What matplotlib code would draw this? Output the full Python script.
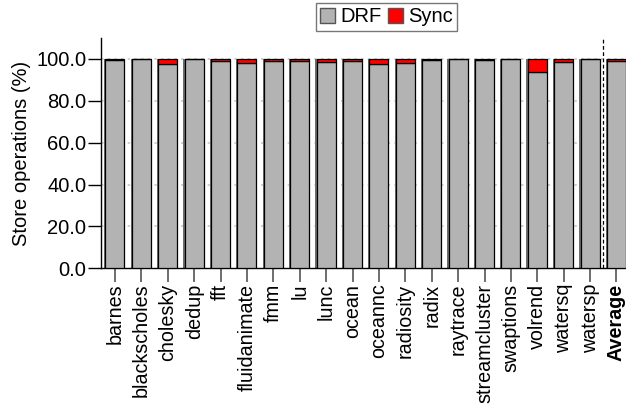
import matplotlib
matplotlib.use("Agg")
import matplotlib.pyplot as plt
import matplotlib.transforms as mtransforms
import numpy as np
from matplotlib.patches import Patch

plt.rcParams['font.family'] = ['Liberation Sans', 'DejaVu Sans']

categories = ["barnes", "blackscholes", "cholesky", "dedup", "fft", "fluidanimate",
              "fmm", "lu", "lunc", "ocean", "oceannc", "radiosity", "radix",
              "raytrace", "streamcluster", "swaptions", "volrend", "watersq",
              "watersp", "Average"]
sync = [0.5, 0.2, 2.5, 0.1, 0.8, 2.0, 0.8, 0.8, 1.5, 1.0, 2.5, 1.8, 0.5,
        0.1, 0.3, 0.2, 6.4, 1.3, 0.1, 1.2]
drf = [100 - s for s in sync]
yticks = [0, 20, 40, 60, 80, 100]

fig = plt.figure(figsize=(6.26, 4.11), dpi=100)
ax = fig.add_axes([0.1613, 0.347, 0.8387, 0.5605])

x = np.arange(len(categories))
w = 0.72
shadow_off = 0.05
# shadow
ax.bar(x - shadow_off, 100, width=w, color='#6e6e6e', edgecolor='none', zorder=2)
ax.bar(x, drf, width=w, color='#b3b3b3', edgecolor='black', linewidth=0.9, zorder=3)
ax.bar(x, sync, bottom=drf, width=w, color='#ff0000', edgecolor='black', linewidth=0.9, zorder=3)

ax.set_xlim(-0.53, 19.36)
ax.set_ylim(0, 110)
ax.set_yticks(yticks)
ax.set_yticklabels([f"{v:.1f}" for v in yticks], fontsize=14.5)
ax.set_xticks(x)
labels = ax.set_xticklabels(categories, rotation=90, fontsize=14.2)
labels[-1].set_fontweight('bold')
offset = mtransforms.ScaledTranslation(-5 / 72, 0, fig.dpi_scale_trans)
for lab in labels:
    lab.set_transform(lab.get_transform() + offset)

for v in yticks[1:]:
    ax.axhline(v, color='#c8c8c8', linestyle=(0, (1.5, 2.5)), linewidth=1.2, zorder=1)
ax.axvline(18.5, color='black', linestyle=(0, (3, 2)), linewidth=0.9, zorder=4)

ax.spines['top'].set_visible(False)
ax.spines['right'].set_visible(False)
ax.spines['left'].set_linewidth(1.0)
ax.spines['bottom'].set_linewidth(1.0)
ax.tick_params(axis='x', length=10, width=1.2, color='#555555', pad=1)
ax.tick_params(axis='y', length=9.5, width=1.0, color='black', pad=1)

ax.set_ylabel("Store operations (%)", fontsize=14.5, labelpad=4)

handles = [Patch(facecolor='#b3b3b3', edgecolor='#555555', label='DRF'),
           Patch(facecolor='#ff0000', edgecolor='#555555', label='Sync')]
leg = fig.legend(handles=handles, loc='center', bbox_to_anchor=(386.5/626, 1 - 17/411),
                 ncol=2, fontsize=14.5, frameon=True, fancybox=False,
                 handlelength=0.75, handleheight=0.75, handletextpad=0.25,
                 columnspacing=0.3, borderpad=0.2, borderaxespad=0)
leg.get_frame().set_edgecolor('#555555')
leg.get_frame().set_linewidth(1.0)

fig.savefig("out.png", dpi=100)
